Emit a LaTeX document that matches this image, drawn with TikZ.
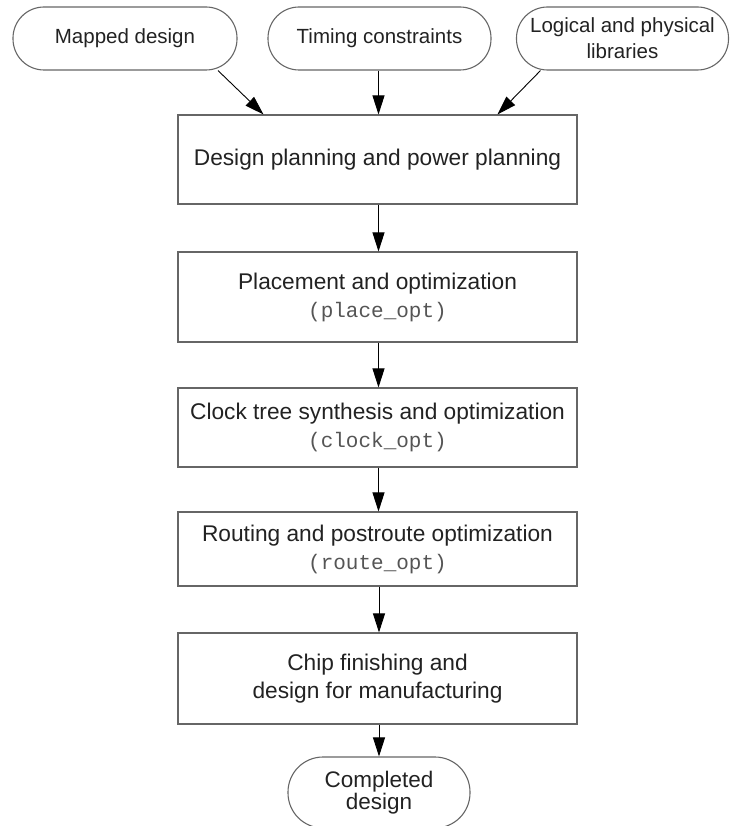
\documentclass[tikz,border=0pt]{standalone}
\usepackage{fontspec}
\setmainfont{Liberation Sans}
\setmonofont{Liberation Mono}
\usetikzlibrary{arrows.meta}
\definecolor{edge}{HTML}{666666}
\definecolor{txt}{HTML}{222222}
\definecolor{mono}{HTML}{555555}
\begin{document}
\begin{tikzpicture}[x=1pt,y=-1pt,
  pill/.style={draw=edge, line width=1.1pt, rounded corners=31pt, minimum height=63pt, inner sep=0pt, align=center, text=txt, font=\fontsize{20.5}{26}\selectfont},
  stepbox/.style={draw=edge, line width=1.1pt, minimum width=399pt, inner sep=0pt, align=center, text=txt, font=\fontsize{22.7}{28}\selectfont},
  arr/.style={draw=black, line width=0.9pt, -{Triangle[length=19pt,width=12pt]}},
]
\useasboundingbox (0,0) rectangle (730,826);
\clip (0,0) rectangle (730,826);
\node[pill, minimum width=224pt] (mapped) at (125,38.5) {Mapped design};
\node[pill, minimum width=223pt] (timing) at (379.5,38.5) {Timing constraints};
\node[pill, minimum width=212pt] (libs) at (622.5,38.5) {Logical and physical\\libraries};

\node[stepbox, minimum height=89pt] (b1) at (377.5,159.5) {\raisebox{-3pt}{Design planning and power planning}};
\node[stepbox, minimum height=90pt] (b2) at (377.5,297) {Placement and optimization\\{\color{mono}\ttfamily\fontsize{21}{28}\selectfont (place\_opt)}};
\node[stepbox, minimum height=79pt] (b3) at (377.5,427.5) {Clock tree synthesis and optimization\\{\color{mono}\ttfamily\fontsize{21}{28}\selectfont (clock\_opt)}};
\node[stepbox, minimum height=74pt] (b4) at (377.5,549) {Routing and postroute optimization\\{\color{mono}\ttfamily\fontsize{21}{28}\selectfont (route\_opt)}};
\node[stepbox, minimum height=91pt] (b5) at (377.5,678.5) {Chip finishing and\\design for manufacturing};
\node[pill, minimum width=182pt, minimum height=71pt, rounded corners=35pt, font=\fontsize{22.5}{20}\selectfont] (done) at (379,792.5) {Completed\\design};

\draw[arr] ([xshift=93pt]mapped.south) -- ([xshift=-114pt]b1.north);
\draw[arr] (timing.south -| 378.5,0) -- (b1.north -| 378.5,0);
\draw[arr] ([xshift=-82pt]libs.south) -- ([xshift=120pt]b1.north);
\draw[arr] (b1.south -| 378.5,0) -- (b2.north -| 378.5,0);
\draw[arr] (b2.south -| 378.5,0) -- (b3.north -| 378.5,0);
\draw[arr] (b3.south -| 378.5,0) -- (b4.north -| 378.5,0);
\draw[arr] (b4.south -| 379,0) -- (b5.north -| 379,0);
\draw[arr] (b5.south -| done.north) -- (done.north);
\end{tikzpicture}
\end{document}
